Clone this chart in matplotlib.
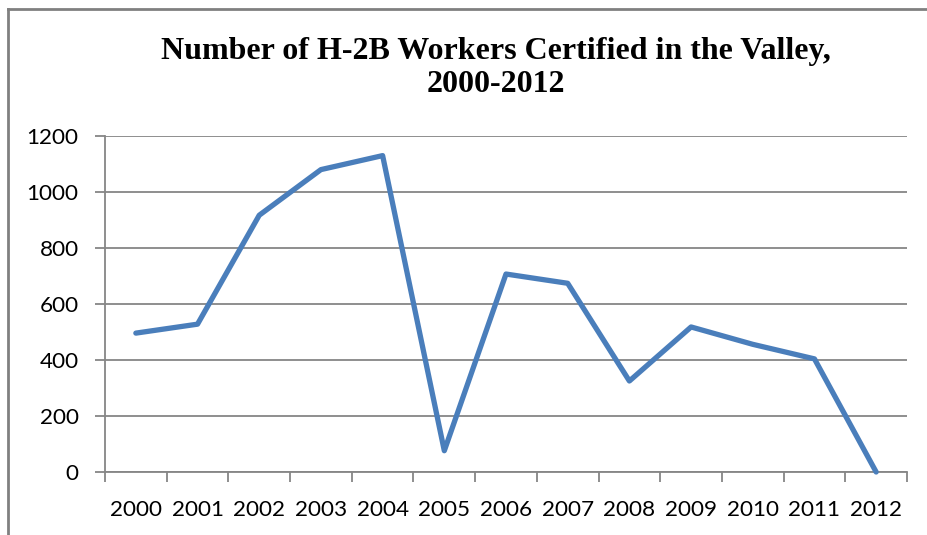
import matplotlib
matplotlib.use("Agg")
import matplotlib.pyplot as plt
from matplotlib.lines import Line2D
import numpy as np

years = ["2000", "2001", "2002", "2003", "2004", "2005", "2006",
         "2007", "2008", "2009", "2010", "2011", "2012"]
workers = [496, 528, 917, 1080, 1130, 76, 707, 674, 325, 518, 456, 404, 0]
yticks = [0, 200, 400, 600, 800, 1000, 1200]
title = "Number of H-2B Workers Certified in the Valley,\n2000-2012"

W, H = 928, 535
fig = plt.figure(figsize=(W / 100, H / 100), dpi=100)
fig.patch.set_facecolor("white")

# outer chart frame (left and top visible)
fig.add_artist(Line2D([8.5 / W, 8.5 / W], [0, 1 - 8.5 / H], transform=fig.transFigure,
                      color="#808080", lw=2))
fig.add_artist(Line2D([8.5 / W, 1], [1 - 8.5 / H, 1 - 8.5 / H], transform=fig.transFigure,
                      color="#808080", lw=2))

left, right, bottom, top = 105, 907, 472, 136
ax = fig.add_axes([left / W, 1 - bottom / H, (right - left) / W, (bottom - top) / H])

x = np.arange(len(years))
ax.plot(x, workers, color="#4A7EBB", lw=3.8, solid_joinstyle="round",
        solid_capstyle="round", zorder=3, clip_on=False)

ax.set_xlim(-0.5, len(years) - 0.5)
ax.set_ylim(0, 1200)
ax.set_yticks(yticks)
ax.set_yticklabels([str(v) for v in yticks])
ax.yaxis.grid(True, color="#868686", lw=1.3)
ax.set_axisbelow(True)

ax.set_xticks(np.arange(-0.5, len(years), 1.0))
ax.set_xticklabels([])
ax.set_xticks(x, minor=True)
ax.set_xticklabels(years, minor=True)
ax.tick_params(axis="x", which="major", length=7, width=1.3, color="#868686", direction="out")
ax.tick_params(axis="x", which="minor", length=0, pad=20)
ax.tick_params(axis="y", length=7, width=1.3, color="#868686", pad=12)

for lab in ax.get_xticklabels(minor=True) + ax.get_yticklabels():
    lab.set_fontfamily("Lato")
    lab.set_fontsize(16.2)
    lab.set_color("black")

for s in ["top", "right"]:
    ax.spines[s].set_visible(False)
for s in ["left", "bottom"]:
    ax.spines[s].set_color("#868686")
    ax.spines[s].set_linewidth(1.3)

fig.text(496 / W, 1 - 68 / H, title, ha="center", va="center",
         fontfamily="Liberation Serif", fontweight="bold", fontsize=23,
         linespacing=1.15)

fig.savefig("out.png", dpi=100, facecolor="white")
